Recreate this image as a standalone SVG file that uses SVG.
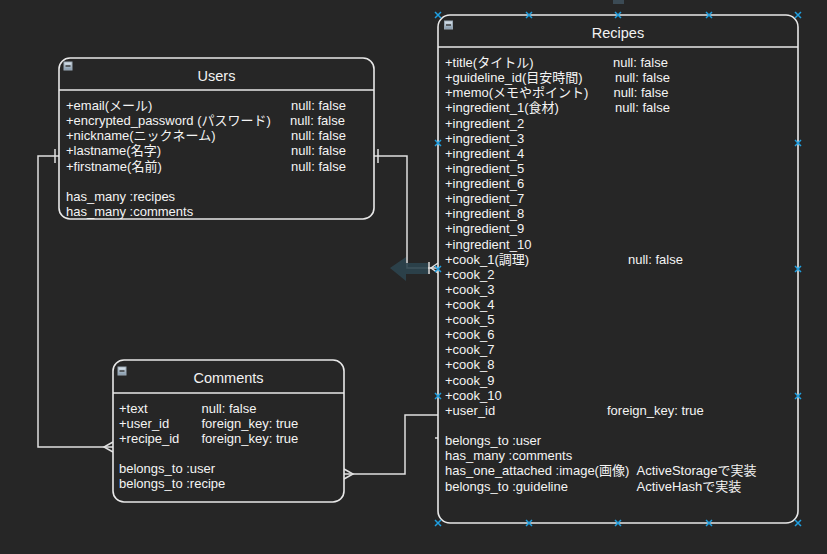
<svg xmlns="http://www.w3.org/2000/svg" width="827" height="554" viewBox="0 0 827 554">
  <style>
    .bg { fill: #262626; }
    .box { fill: #262626; stroke: #e8e8e8; stroke-width: 1.6; }
    .sep { stroke: #e8e8e8; stroke-width: 1.6; }
    .title { font-family: "Liberation Sans", "Noto Sans CJK JP", sans-serif; font-size: 14.5px; fill: #f2f2f2; text-anchor: middle; }
    .row { font-family: "Liberation Sans", "Noto Sans CJK JP", sans-serif; font-size: 13px; fill: #f4f4f4; }
    .edge { fill: none; stroke: #e0e0e0; stroke-width: 1.5; }
    .hdl { fill: none; stroke: #1f9fe0; stroke-width: 1.5; }
  </style>
  <defs>
    <linearGradient id="iconGrad" x1="0" y1="0" x2="0" y2="1">
      <stop offset="0" stop-color="#dfe8f0"/>
      <stop offset="1" stop-color="#7f95a8"/>
    </linearGradient>
    <!-- collapse toggle shown in each table header -->
    <g id="collapse">
      <rect x="0.5" y="0.5" width="8" height="8" fill="url(#iconGrad)" stroke="#9aa7b3" stroke-width="1"/>
      <line x1="2" y1="4.5" x2="7" y2="4.5" stroke="#333" stroke-width="1.4"/>
    </g>
    <!-- selection handle -->
    <path id="handle" d="M-3,-3 L3,3 M3,-3 L-3,3"/>
  </defs>

  <rect class="bg" x="0" y="0" width="827" height="554"/>
  <rect x="613" y="0" width="11" height="4" fill="#3b4a54"/>

  <!-- relationships -->
  <g id="connectors">
    <!-- Users 1 - * Comments -->
    <path class="edge" d="M59,156 H38 V447 H113"/>
    <line class="edge" x1="55" y1="149" x2="55" y2="163"/>
    <path class="edge" d="M113,442 L104,447 L113,452"/>
    <!-- Users 1 - * Recipes -->
    <path class="edge" d="M374,156 H407 V268 H438"/>
    <line class="edge" x1="378" y1="149" x2="378" y2="163"/>
    <line class="edge" x1="429" y1="262" x2="429" y2="274"/>
    <path class="edge" d="M438,263 L431,268 L438,273"/>
    <!-- Comments * - 1 Recipes -->
    <path class="edge" d="M344,474 H405 V415 H438"/>
    <path class="edge" d="M344,469 L353,474 L344,479"/>
    <line class="edge" x1="435" y1="438" x2="441" y2="438"/>
  </g>

  <!-- drag hint arrow -->
  <path d="M390,268 L406,257 L406,263 L428,263 L428,274 L406,274 L406,281 Z" fill="#2c444e" opacity="0.9"/>

  <g id="users">
    <rect class="box" x="59" y="58" width="315" height="161" rx="11" ry="11"/>
    <line class="sep" x1="59" y1="90" x2="374" y2="90"/>
    <use href="#collapse" x="63.5" y="61.5"/>
    <text class="title" x="216.5" y="81">Users</text>
    <text class="row" x="66" y="110">+email(メール)</text>
    <text class="row" x="66" y="125">+encrypted_password (パスワード)</text>
    <text class="row" x="66" y="140">+nickname(ニックネーム)</text>
    <text class="row" x="66" y="155">+lastname(名字)</text>
    <text class="row" x="66" y="170.5">+firstname(名前)</text>
    <text class="row" x="291" y="110">null: false</text>
    <text class="row" x="290" y="125">null: false</text>
    <text class="row" x="291" y="140">null: false</text>
    <text class="row" x="291" y="155">null: false</text>
    <text class="row" x="291" y="170.5">null: false</text>
    <text class="row" x="66" y="201">has_many :recipes</text>
    <text class="row" x="66" y="216">has_many :comments</text>
  </g>

  <g id="comments">
    <rect class="box" x="113" y="360" width="231" height="142" rx="11" ry="11"/>
    <line class="sep" x1="113" y1="393" x2="344" y2="393"/>
    <use href="#collapse" x="117.5" y="366.5"/>
    <text class="title" x="228.5" y="383">Comments</text>
    <text class="row" x="119" y="413">+text</text>
    <text class="row" x="119" y="428">+user_id</text>
    <text class="row" x="119" y="443">+recipe_id</text>
    <text class="row" x="201.5" y="413">null: false</text>
    <text class="row" x="201.5" y="428">foreign_key: true</text>
    <text class="row" x="201.5" y="443">foreign_key: true</text>
    <text class="row" x="119" y="473">belongs_to :user</text>
    <text class="row" x="119" y="488">belongs_to :recipe</text>
  </g>

  <g id="recipes">
    <rect class="box" x="438" y="15" width="360" height="508" rx="12" ry="12"/>
    <line class="sep" x1="438" y1="47" x2="798" y2="47"/>
    <use href="#collapse" x="444" y="20.5"/>
    <text class="title" x="618" y="38">Recipes</text>
    <g class="row">
      <text x="445" y="67">+title(タイトル)</text>
      <text x="445" y="82.1">+guideline_id(目安時間)</text>
      <text x="445" y="97.2">+memo(メモやポイント)</text>
      <text x="445" y="112.4">+ingredient_1(食材)</text>
      <text x="445" y="127.5">+ingredient_2</text>
      <text x="445" y="142.6">+ingredient_3</text>
      <text x="445" y="157.7">+ingredient_4</text>
      <text x="445" y="172.9">+ingredient_5</text>
      <text x="445" y="188">+ingredient_6</text>
      <text x="445" y="203.1">+ingredient_7</text>
      <text x="445" y="218.2">+ingredient_8</text>
      <text x="445" y="233.3">+ingredient_9</text>
      <text x="445" y="248.5">+ingredient_10</text>
      <text x="445" y="263.6">+cook_1(調理)</text>
      <text x="445" y="278.7">+cook_2</text>
      <text x="445" y="293.8">+cook_3</text>
      <text x="445" y="309">+cook_4</text>
      <text x="445" y="324.1">+cook_5</text>
      <text x="445" y="339.2">+cook_6</text>
      <text x="445" y="354.3">+cook_7</text>
      <text x="445" y="369.4">+cook_8</text>
      <text x="445" y="384.6">+cook_9</text>
      <text x="445" y="399.7">+cook_10</text>
      <text x="445" y="414.8">+user_id</text>
      <text x="445" y="445">belongs_to :user</text>
      <text x="445" y="460">has_many :comments</text>
      <text x="445" y="475">has_one_attached :image(画像)</text>
      <text x="445" y="490.5">belongs_to :guideline</text>
      <text x="613" y="67">null: false</text>
      <text x="615" y="82.1">null: false</text>
      <text x="613.5" y="97.2">null: false</text>
      <text x="615" y="112.4">null: false</text>
      <text x="628" y="263.6">null: false</text>
      <text x="607" y="414.8">foreign_key: true</text>
      <text x="636.5" y="475">ActiveStorageで実装</text>
      <text x="636.5" y="490.5">ActiveHashで実装</text>
    </g>
  </g>

  <!-- selection handles around the Recipes table -->
  <g id="handles" class="hdl">
    <use href="#handle" x="438" y="15"/>
    <use href="#handle" x="529" y="15"/>
    <use href="#handle" x="618" y="15"/>
    <use href="#handle" x="709" y="15"/>
    <use href="#handle" x="798" y="15"/>
    <use href="#handle" x="438" y="523"/>
    <use href="#handle" x="529" y="523"/>
    <use href="#handle" x="618" y="523"/>
    <use href="#handle" x="709" y="523"/>
    <use href="#handle" x="798" y="523"/>
    <use href="#handle" x="438" y="143"/>
    <use href="#handle" x="438" y="269"/>
    <use href="#handle" x="438" y="396"/>
    <use href="#handle" x="798" y="143"/>
    <use href="#handle" x="798" y="269"/>
    <use href="#handle" x="798" y="396"/>
  </g>
</svg>
